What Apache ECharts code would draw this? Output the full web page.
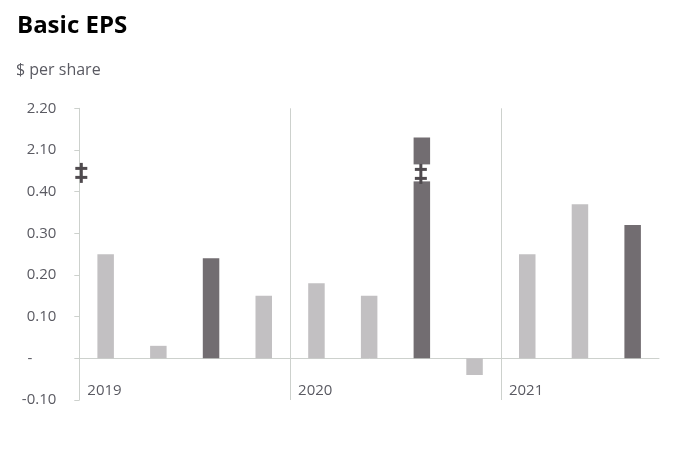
<!DOCTYPE html>
<html><head><meta charset="utf-8">
<script src="https://cdn.jsdelivr.net/npm/echarts@6/dist/echarts.min.js"></script>
<style>html,body{margin:0;padding:0;background:#fff}#c{width:685px;height:463px}</style>
</head><body><div id="c"></div>
<script>
const quarters = ['Q1 2019','Q2 2019','Q3 2019','Q4 2019','Q1 2020','Q2 2020','Q3 2020','Q4 2020','Q1 2021','Q2 2021','Q3 2021'];
const years = ['2019','2020','2021'];
const eps = [0.25, 0.03, 0.24, 0.15, 0.18, 0.15, 2.13, -0.04, 0.25, 0.37, 0.32];
const yTickLabels = ['-0.10','-','0.10','0.20','0.30','0.40','2.10','2.20'];

// broken axis: values above the break are shifted down by 1.60 (2.10 shown where 0.50 would be)
const breakShift = 1.6, breakAt = 0.445;
const mapV = v => v > breakAt ? v - breakShift : v;

const LIGHT = '#c2c0c2', DARK = '#726d71', AXIS = '#cdd1cd', TXT = '#5a5a62';
const FONT = '"Open Sans", sans-serif';

const barData = eps.map((v, i) => ({
  value: mapV(v),
  itemStyle: { color: (i % 4 === 2) ? DARK : LIGHT }
}));
const breakItems = [[0, breakAt, 0]];
eps.forEach((v, i) => { if (v > breakAt + breakShift) breakItems.push([i, breakAt, 1]); });
const yearItems = years.map((y, i) => [i * 4, -0.1]);
const sepItems = years.slice(1).map((y, i) => [(i + 1) * 4, -0.1]);

function dagger(cx, cy, color) {
  return [
    { type: 'rect', shape: { x: cx - 1.5, y: cy - 10, width: 3, height: 20 }, style: { fill: color } },
    { type: 'rect', shape: { x: cx - 6, y: cy - 6, width: 12, height: 3 }, style: { fill: color } },
    { type: 'rect', shape: { x: cx - 6, y: cy + 3, width: 12, height: 3 }, style: { fill: color } }
  ];
}

const chart = echarts.init(document.getElementById('c'));
chart.setOption({
  animation: false,
  backgroundColor: '#fff',
  title: [
    { text: 'Basic EPS', left: 12, top: 9, textStyle: { fontFamily: FONT, fontSize: 24, fontWeight: 'bold', color: '#000' } },
    { text: '$ per share', left: 11, top: 57, textStyle: { fontFamily: FONT, fontSize: 16, fontWeight: 'normal', color: TXT } }
  ],
  grid: { left: 79.3, right: 26, top: 108.3, bottom: 63 },
  xAxis: {
    type: 'category', data: quarters,
    axisLine: { show: true, onZero: true, lineStyle: { color: AXIS, width: 1 } },
    axisTick: { show: false }, axisLabel: { show: false },
    splitLine: { show: false }
  },
  yAxis: {
    type: 'value', min: -0.1, max: 0.6, interval: 0.1,
    axisLine: { show: true, lineStyle: { color: AXIS } },
    axisTick: { show: true, length: 5, lineStyle: { color: AXIS } },
    splitLine: { show: false },
    axisLabel: {
      margin: 23, fontFamily: FONT, fontSize: 15, color: TXT,
      formatter: (v) => {
        const idx = Math.round((v + 0.1) * 10);
        const t = yTickLabels[idx];
        return t === '-' ? '{z|-}' : t;
      },
      rich: { z: { fontFamily: FONT, fontSize: 15, color: TXT, padding: [0, 24, 0, 0] } }
    }
  },
  series: [
    {
      type: 'custom', data: sepItems, z: 1, silent: true,
      renderItem: (params, api) => {
        const p0 = api.coord([api.value(0), -0.1]);
        const p1 = api.coord([api.value(0), 0.6]);
        const x = Math.round(p0[0] - api.size([1, 0])[0] / 2) + 0.5;
        return { type: 'line', shape: { x1: x, y1: p0[1], x2: x, y2: p1[1] }, style: { stroke: AXIS, lineWidth: 1 } };
      }
    },
    { type: 'bar', data: barData, barWidth: 16.5 },
    {
      type: 'custom', data: breakItems, z: 5,
      renderItem: (params, api) => {
        const idx = api.value(0), y = api.value(1), kind = api.value(2);
        const p = api.coord([idx, y]);
        const bw = api.size([1, 0])[0];
        if (kind === 0) {
          return { type: 'group', children: dagger(p[0] - bw / 2 + 2, p[1], '#4f4a4e') };
        }
        const children = [{ type: 'rect', shape: { x: p[0] - 9.5, y: p[1] - 8.5, width: 19, height: 17 }, style: { fill: '#fff' } }];
        return { type: 'group', children: children.concat(dagger(p[0] - 1, p[1] + 1, '#4f4a4e')) };
      }
    },
    {
      type: 'custom', data: yearItems, z: 5,
      renderItem: (params, api) => {
        const p = api.coord([api.value(0), api.value(1)]);
        const bw = api.size([1, 0])[0];
        return { type: 'text', style: { text: years[params.dataIndex], x: p[0] - bw / 2 + 8, y: p[1] - 9, verticalAlign: 'middle', align: 'left', font: '15px ' + FONT, fill: TXT } };
      }
    }
  ]
});
</script></body></html>
